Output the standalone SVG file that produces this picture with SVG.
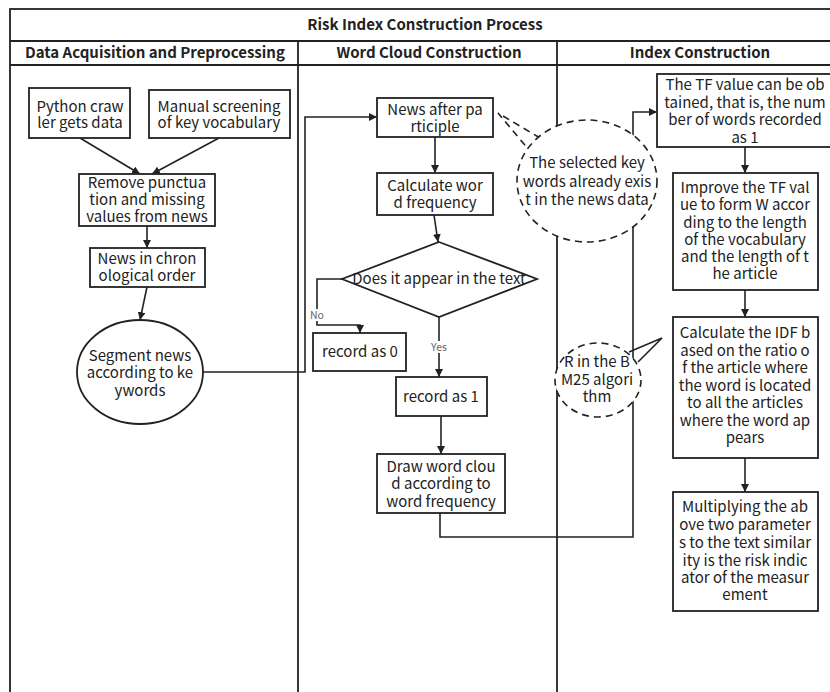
<svg xmlns="http://www.w3.org/2000/svg" width="830" height="692" viewBox="0 0 830 692">
<defs>
<marker id="arr" viewBox="0 0 10 10" refX="10" refY="5" markerWidth="8" markerHeight="8" markerUnits="userSpaceOnUse" orient="auto">
<path d="M0,0 L10,5 L0,10 z" fill="#222"/>
</marker>
<style>
.frame{fill:none;stroke:#222;stroke-width:1.8}
.box{fill:#fff;stroke:#222;stroke-width:1.8}
.dash{fill:#fff;stroke:#222;stroke-width:1.6;stroke-dasharray:7 5}
.dl{fill:none;stroke:#222;stroke-width:1.6;stroke-dasharray:7 5}
.ln{fill:none;stroke:#222;stroke-width:1.6}
.ar{fill:none;stroke:#222;stroke-width:1.6;marker-end:url(#arr)}
text{font-family:"Noto Sans CJK SC","Noto Sans",sans-serif;font-size:15px;fill:#222;text-anchor:middle}
.hd{font-weight:bold}
.lb{font-size:10.5px;fill:#666}
</style>
</defs>
<rect width="830" height="692" fill="#fff"/>
<g id="frame">
<rect class="frame" x="10" y="9" width="822" height="690"/>
<line class="frame" x1="10" y1="41" x2="832" y2="41"/>
<line class="frame" x1="10" y1="65" x2="832" y2="65"/>
<line class="frame" x1="298" y1="41" x2="298" y2="692"/>
<line class="frame" x1="557" y1="41" x2="557" y2="692"/>
<text class="hd" x="425" y="30">Risk Index Construction Process</text>
<text class="hd" x="155" y="58">Data Acquisition and Preprocessing</text>
<text class="hd" x="429" y="58">Word Cloud Construction</text>
<text class="hd" x="700" y="58">Index Construction</text>
</g>
<g id="connectors">
<line class="ar" x1="80" y1="138" x2="140" y2="174"/>
<line class="ar" x1="219" y1="138" x2="152" y2="174"/>
<line class="ar" x1="147" y1="226" x2="147" y2="248"/>
<line class="ar" x1="147" y1="287" x2="140" y2="320"/>
<polyline class="ar" points="203,372 305,372 305,117 377,117"/>
<line class="ar" x1="435" y1="137" x2="435" y2="173"/>
<line class="ar" x1="434" y1="215" x2="438" y2="242"/>
<polyline class="ar" points="342,279 317,279 317,325 360,325 360,333"/>
<line class="ar" x1="439" y1="317" x2="439" y2="377"/>
<line class="ar" x1="441" y1="416" x2="441" y2="454"/>
<polyline class="ar" points="440,513 440,537 633,537 633,112 657,112"/>
<line class="ar" x1="745" y1="147" x2="745" y2="173"/>
<line class="ar" x1="745" y1="290" x2="745" y2="317"/>
<line class="ar" x1="745" y1="458" x2="745" y2="492"/>
<rect x="309" y="309" width="16" height="12" fill="#fff"/>
<text class="lb" x="317" y="319">No</text>
<rect x="429" y="341" width="20" height="12" fill="#fff"/>
<text class="lb" x="439" y="351">Yes</text>
</g>
<g id="python">
<rect class="box" x="29" y="88" width="101" height="50"/>
<text x="80" y="112">Python craw</text>
<text x="80" y="128">ler gets data</text>
</g>
<g id="manual">
<rect class="box" x="149" y="90" width="141" height="48"/>
<text x="219" y="112">Manual screening</text>
<text x="219" y="128">of key vocabulary</text>
</g>
<g id="remove">
<rect class="box" x="79" y="174" width="136" height="52"/>
<text x="147" y="188">Remove punctua</text>
<text x="147" y="205">tion and missing</text>
<text x="147" y="222">values from news</text>
</g>
<g id="chron">
<rect class="box" x="90" y="248" width="115" height="39"/>
<text x="147" y="264">News in chron</text>
<text x="147" y="281">ological order</text>
</g>
<g id="segment">
<ellipse class="box" cx="140" cy="372" rx="63" ry="52"/>
<text x="140" y="361">Segment news</text>
<text x="140" y="378">according to ke</text>
<text x="140" y="396">ywords</text>
</g>
<g id="participle">
<rect class="box" x="377" y="98" width="116" height="39"/>
<text x="435" y="115">News after pa</text>
<text x="435" y="132">rticiple</text>
</g>
<g id="frequency">
<rect class="box" x="377" y="173" width="116" height="42"/>
<text x="435" y="191">Calculate wor</text>
<text x="435" y="208">d frequency</text>
</g>
<g id="decision">
<polygon class="box" points="439,242 537,279 439,317 342,279"/>
<text x="439" y="284">Does it appear in the text</text>
</g>
<g id="record0">
<rect class="box" x="313" y="333" width="93" height="38"/>
<text x="360" y="357">record as 0</text>
</g>
<g id="record1">
<rect class="box" x="396" y="377" width="91" height="39"/>
<text x="441" y="402">record as 1</text>
</g>
<g id="cloud">
<rect class="box" x="377" y="454" width="128" height="59"/>
<text x="441" y="472">Draw word clou</text>
<text x="441" y="489">d according to</text>
<text x="441" y="507">word frequency</text>
</g>
<g id="note-keywords">
<polyline class="dl" points="540,138 498,113 529,150"/>
<ellipse class="dash" cx="587" cy="181" rx="70" ry="61"/>
<text x="587" y="168">The selected key</text>
<text x="587" y="187">words already exis</text>
<text x="587" y="205">t in the news data</text>
</g>
<g id="note-bm25">
<ellipse class="dash" cx="598" cy="380" rx="43" ry="37"/>
<polyline class="ln" points="629,352 662,338 638,362"/>
<text x="597" y="367">R in the B</text>
<text x="597" y="385">M25 algori</text>
<text x="597" y="402">thm</text>
</g>
<g id="tf">
<rect class="box" x="657" y="74" width="176" height="73"/>
<text x="745" y="90">The TF value can be ob</text>
<text x="745" y="107.5">tained, that is, the num</text>
<text x="745" y="125">ber of words recorded</text>
<text x="745" y="142.5">as 1</text>
</g>
<g id="improve">
<rect class="box" x="673" y="173" width="145" height="117"/>
<text x="745" y="193">Improve the TF val</text>
<text x="745" y="210">ue to form W accor</text>
<text x="745" y="227.5">ding to the length</text>
<text x="745" y="245">of the vocabulary</text>
<text x="745" y="262">and the length of t</text>
<text x="745" y="279">he article</text>
</g>
<g id="idf">
<rect class="box" x="673" y="317" width="145" height="141"/>
<text x="745" y="338">Calculate the IDF b</text>
<text x="745" y="356">ased on the ratio o</text>
<text x="745" y="373">f the article where</text>
<text x="745" y="391">the word is located</text>
<text x="745" y="408">to all the articles</text>
<text x="745" y="426">where the word ap</text>
<text x="745" y="443">pears</text>
</g>
<g id="multiply">
<rect class="box" x="673" y="492" width="145" height="119"/>
<text x="745" y="512">Multiplying the ab</text>
<text x="745" y="530">ove two parameter</text>
<text x="745" y="548">s to the text similar</text>
<text x="745" y="566">ity is the risk indic</text>
<text x="745" y="583">ator of the measur</text>
<text x="745" y="600">ement</text>
</g>
</svg>
